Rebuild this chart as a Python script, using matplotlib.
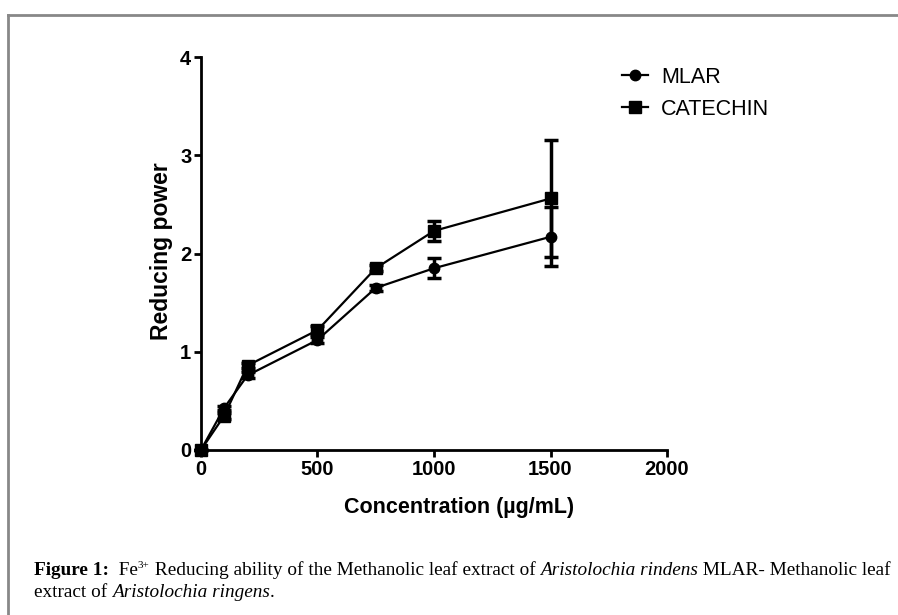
import matplotlib.pyplot as plt
import numpy as np

concentration = [0, 100, 200, 500, 750, 1000, 1500]
mlar = [0.0, 0.43, 0.76, 1.12, 1.65, 1.85, 2.17]
mlar_err = [0.0, 0.02, 0.03, 0.03, 0.03, 0.10, 0.30]
catechin = [0.0, 0.35, 0.86, 1.22, 1.85, 2.23, 2.56]
catechin_err = [0.0, 0.03, 0.03, 0.04, 0.03, 0.10, 0.60]

x_ticks = [0, 500, 1000, 1500, 2000]
y_ticks = [0, 1, 2, 3, 4]

plt.rcParams['font.family'] = ['Liberation Sans', 'DejaVu Sans']

fig = plt.figure(figsize=(8.98, 6.15), dpi=100)
ax = fig.add_axes([0.2238, 0.2683, 0.519, 0.639])

# outer frame lines (top and left)
fig.add_artist(plt.Line2D([7.5 / 898, 1], [1 - 14.5 / 615] * 2, color='#888888', lw=2))
fig.add_artist(plt.Line2D([7.5 / 898] * 2, [0, 1 - 14.5 / 615], color='#888888', lw=2))

ax.errorbar(concentration, mlar, yerr=mlar_err, color='black', marker='o', ms=7.5,
            lw=1.6, elinewidth=2.5, capsize=5, capthick=2.5, label='MLAR', clip_on=False)
ax.errorbar(concentration, catechin, yerr=catechin_err, color='black', marker='s', ms=8.5,
            lw=1.6, elinewidth=2.5, capsize=5, capthick=2.5, label='CATECHIN', clip_on=False)

ax.set_xlim(0, 2000)
ax.set_ylim(0, 4)
ax.set_xticks(x_ticks)
ax.set_yticks(y_ticks)
ax.spines['top'].set_visible(False)
ax.spines['right'].set_visible(False)
ax.spines['left'].set_linewidth(2)
ax.spines['bottom'].set_linewidth(2)
ax.tick_params(width=2, length=5, labelsize=14.5, pad=2)
for lab in ax.get_xticklabels() + ax.get_yticklabels():
    lab.set_fontweight('bold')

ax.set_xlabel('Concentration (µg/mL)', fontsize=15.5, fontweight='bold')
ax.xaxis.set_label_coords(0.553, -0.12)
ax.set_ylabel('Reducing power', fontsize=16.5, fontweight='bold')
ax.yaxis.set_label_coords(-0.06, 0.505)

handles, labels = ax.get_legend_handles_labels()
handles = [h[0] for h in handles]
ax.legend(handles, labels, loc='upper left', bbox_to_anchor=(0.862, 1.024), frameon=False,
          fontsize=15.5, handlelength=1.2, handletextpad=0.6, labelspacing=0.5)

# caption, laid out piece by piece
fig.canvas.draw()
renderer = fig.canvas.get_renderer()
line1 = [("Figure 1:", 'normal', 'bold', 0), ("  Fe", 'normal', 'normal', 0),
         ("3+", 'normal', 'normal', 1),
         (" Reducing ability of the Methanolic leaf extract of ", 'normal', 'normal', 0),
         ("Aristolochia rindens", 'italic', 'normal', 0),
         (" MLAR- Methanolic leaf", 'normal', 'normal', 0)]
line2 = [("extract of ", 'normal', 'normal', 0), ("Aristolochia ringens", 'italic', 'normal', 0),
         (".", 'normal', 'normal', 0)]
for pieces, ypix in [(line1, 575), (line2, 597)]:
    x = 34
    for txt, style, weight, sup in pieces:
        size = 8 if sup else 13.9
        y = ypix - 7 if sup else ypix
        t = fig.text(x / 898, 1 - y / 615, txt, family='Liberation Serif', fontsize=size,
                     style=style, weight=weight, va='baseline')
        x += t.get_window_extent(renderer).width

fig.savefig('out.png', dpi=100)
